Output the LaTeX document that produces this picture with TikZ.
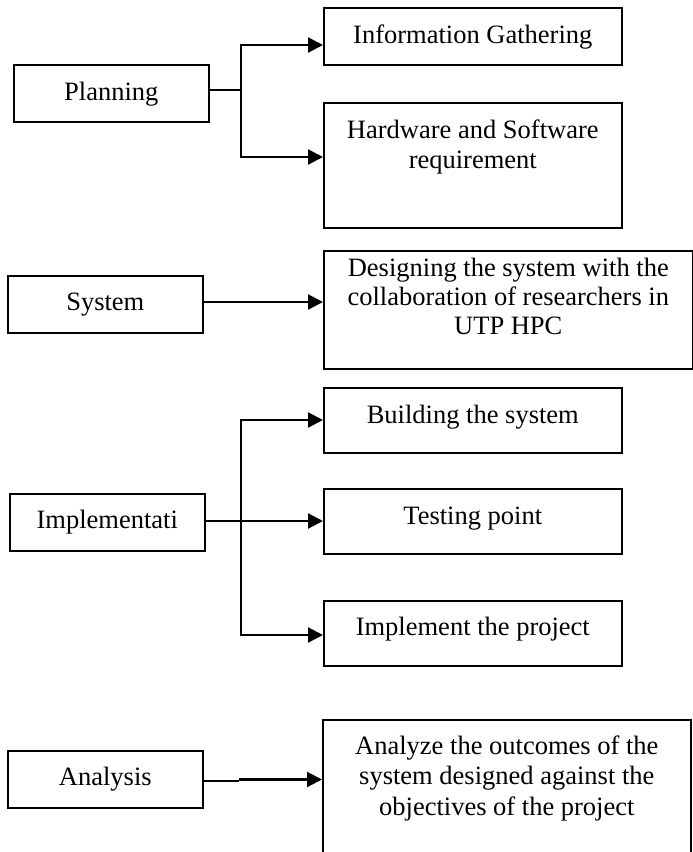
\documentclass[tikz,border=0pt]{standalone}
\usepackage{fontspec}
\setmainfont{Liberation Serif}
\usetikzlibrary{arrows.meta}
\begin{document}
\begin{tikzpicture}[x=1pt,y=-1pt,
  box/.style={draw, line width=1.6pt, inner sep=0pt, anchor=north west},
  lbl/.style={font=\fontsize{26.5pt}{30.5pt}\selectfont, align=center, anchor=base, inner sep=0pt},
  stub/.style={line width=1.2pt},
  branch/.style={line width=2.2pt},
  arr/.style={branch, -{Triangle[length=15pt,width=15pt]}}]
\useasboundingbox (0,0) rectangle (693,852);
\clip (0,0) rectangle (693,852);

% phase boxes on the left
\node[box, minimum width=195pt, minimum height=57pt] (plan) at (13,64) {};
\node[box, minimum width=195pt, minimum height=57pt] (sys)  at (7,275) {};
\node[box, minimum width=195pt, minimum height=57pt] (impl) at (9,493) {};
\node[box, minimum width=195pt, minimum height=57pt] (ana)  at (7,750) {};

% task boxes on the right
\node[box, minimum width=298pt, minimum height=57pt]  (info)    at (323,7) {};
\node[box, minimum width=298pt, minimum height=125pt] (hw)      at (323,102) {};
\node[box, minimum width=369pt, minimum height=118pt] (design)  at (323,250) {};
\node[box, minimum width=298pt, minimum height=65pt]  (build)   at (323,387) {};
\node[box, minimum width=298pt, minimum height=65pt]  (test)    at (323,488) {};
\node[box, minimum width=298pt, minimum height=65pt]  (implp)   at (323,600) {};
\node[box, minimum width=368pt, minimum height=160pt] (analyze) at (322,719) {};

% labels (base anchor of a multi-line label is its last line)
\node[lbl] (tplan) at ([yshift=-36pt]plan.north) {Planning};
\node[lbl] (tsys)  at ([yshift=-35pt]sys.north)  {System};
\node[lbl] (timpl) at ([yshift=-35pt]impl.north) {Implementati};
\node[lbl] (tana)  at ([yshift=-35pt]ana.north)  {Analysis};
\node[lbl] (tinfo) at ([yshift=-36pt]info.north) {Information Gathering};
\node[lbl] (thw)   at ([yshift=-66.5pt]hw.north)   {Hardware and Software\\requirement};
\node[lbl, font=\fontsize{26.5pt}{29pt}\selectfont] (tdes) at ([yshift=-84.5pt]design.north)
  {Designing the system with the\\collaboration of researchers in\\UTP HPC};
\node[lbl] (tbld)  at ([yshift=-36pt]build.north) {Building the system};
\node[lbl] (ttst)  at ([yshift=-36pt]test.north)  {Testing point};
\node[lbl] (timp)  at ([yshift=-35pt]implp.north) {Implement the project};
\node[lbl] (tanz)  at ([yshift=-96pt]analyze.north) {Analyze the outcomes of the\\system designed against the\\objectives of the project};

% planning connectors
\coordinate (pj) at (241,90);
\coordinate (pt) at (241,45);
\coordinate (pb) at (241,157);
\draw[stub] (plan.east |- pj) -- (pj);
\draw[arr] (pb) -- (pt) -- (pt -| info.west);
\draw[arr] (pj) -- (pb) -- (pb -| hw.west);

% system connector
\coordinate (sj) at (202,302);
\draw[arr] (sj) -- (sj -| design.west);

% implementation connectors
\coordinate (ij) at (241,521);
\coordinate (it) at (241,420);
\coordinate (ib) at (241,635);
\draw[stub] (impl.east |- ij) -- (ij);
\draw[arr] (ij) -- (ij -| test.west);
\draw[arr] (ib) -- (it) -- (it -| build.west);
\draw[arr] (ij) -- (ib) -- (ib -| implp.west);

% analysis connector
\coordinate (aj)  at (239,781);
\coordinate (aj2) at (239,779.5);
\draw[stub] (ana.east |- aj) -- (aj);
\draw[arr] (aj2) -- (aj2 -| analyze.west);
\end{tikzpicture}
\end{document}
